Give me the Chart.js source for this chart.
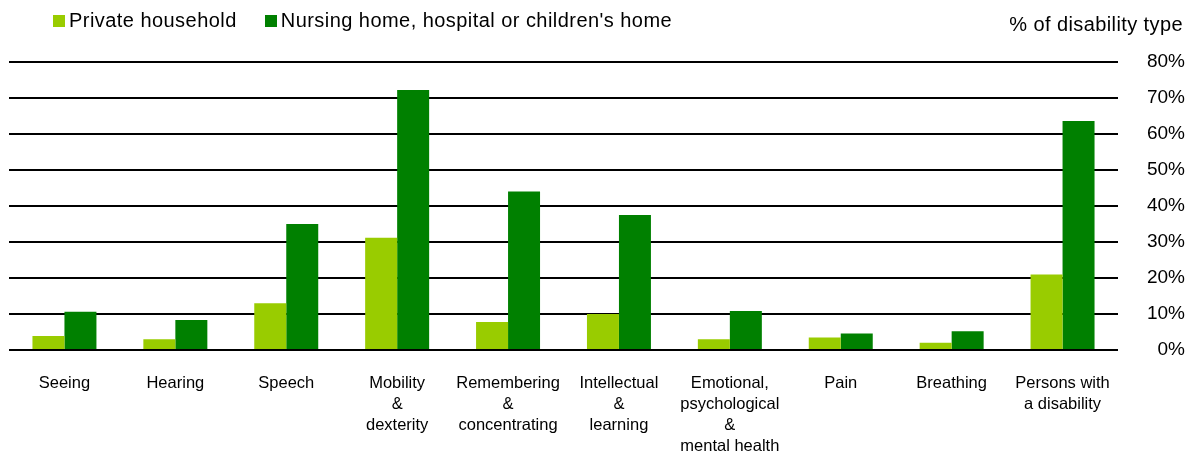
<!DOCTYPE html>
<html lang="en">
<head>
    <meta charset="UTF-8">
    <title>Disability type by place of residence</title>
    <script src="https://cdn.jsdelivr.net/npm/chart.js"></script>
    <style>
        body { margin: 0; background: #fff; font-family: "Liberation Sans", Arial, sans-serif; }
        .janela { position: relative; width: 1190px; height: 452px; }
        #legenda { position: absolute; left: 53px; top: 9px; font-size: 20px; letter-spacing: 0.45px; color: #000; display: flex; }
        #legenda .item { display: flex; align-items: center; margin-right: 28px; }
        #legenda .caixa { width: 12px; height: 12px; margin-right: 4px; }
        #tituloEixo { position: absolute; right: 7px; top: 13px; font-size: 20px; letter-spacing: 0.4px; color: #000; }
        canvas { position: absolute; left: 0; top: 0; }
    </style>
</head>
<body>
    <div class="janela">
        <canvas id="graficoDeficiencia" width="1190" height="452"></canvas>
        <div id="legenda"></div>
        <div id="tituloEixo">% of disability type</div>
    </div>
<script>
    // categorias (linhas dos rótulos)
    var categorias = [
        ['Seeing'],
        ['Hearing'],
        ['Speech'],
        ['Mobility', '&', 'dexterity'],
        ['Remembering', '&', 'concentrating'],
        ['Intellectual', '&', 'learning'],
        ['Emotional,', 'psychological', '&', 'mental health'],
        ['Pain'],
        ['Breathing'],
        ['Persons with', 'a disability']
    ];
    var nomesSeries = ['Private household', "Nursing home, hospital or children's home"];
    var domicilioPrivado = [3.9, 3.0, 13.0, 31.2, 7.8, 10.0, 3.0, 3.5, 2.0, 21.0];
    var instituicao = [10.6, 8.3, 35.0, 72.2, 44.0, 37.5, 10.8, 4.6, 5.2, 63.6];
    var ticksEixo = [0, 10, 20, 30, 40, 50, 60, 70, 80];

    var cores = ['#99CC00', '#008000'];

    let dados = {
        labels: categorias,
        datasets: [
            {
                label: nomesSeries[0],
                data: domicilioPrivado,
                backgroundColor: cores[0],
                categoryPercentage: 0.577,
                barPercentage: 1.0
            },
            {
                label: nomesSeries[1],
                data: instituicao,
                backgroundColor: cores[1],
                categoryPercentage: 0.577,
                barPercentage: 1.0
            }
        ]
    };

    let options = {
        responsive: false,
        animation: false,
        layout: {
            padding: { left: 9, right: 5, top: 62, bottom: 0 }
        },
        scales: {
            x: {
                grid: { display: false, drawTicks: false },
                border: { display: false },
                ticks: {
                    color: '#000',
                    autoSkip: false,
                    maxRotation: 0,
                    padding: 23,
                    font: { family: 'Liberation Sans', size: 16.5, lineHeight: 1.27 }
                },
                afterFit: function (scale) { scale.height = 102; }
            },
            y: {
                position: 'right',
                min: 0,
                max: 80,
                afterBuildTicks: function (scale) {
                    scale.ticks = ticksEixo.map(function (v) { return { value: v }; });
                },
                grid: {
                    color: '#000',
                    lineWidth: 2,
                    drawTicks: false
                },
                border: { display: false },
                ticks: {
                    color: '#000',
                    padding: 27,
                    crossAlign: 'far',
                    font: { family: 'Liberation Sans', size: 19 },
                    callback: function (v) { return v + '%'; }
                },
                afterFit: function (scale) { scale.width = 67; }
            }
        },
        plugins: {
            legend: { display: false },
            tooltip: { enabled: false }
        }
    };

    const config = {
        type: 'bar',
        data: dados,
        options: options
    };

    let meuGrafico = new Chart(
        document.getElementById('graficoDeficiencia'),
        config
    );

    // legenda em html
    var legenda = document.getElementById('legenda');
    for (var i = 0; i < dados.datasets.length; i++) {
        var item = document.createElement('div');
        item.className = 'item';
        item.innerHTML = '<span class="caixa" style="background:' + cores[i] + '"></span><span>' + dados.datasets[i].label + '</span>';
        legenda.appendChild(item);
    }
</script>
</body>
</html>
